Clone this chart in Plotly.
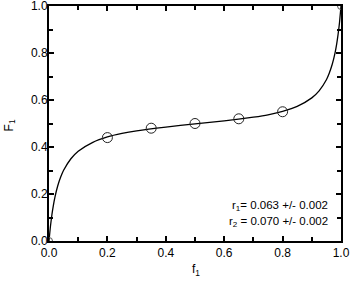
import plotly.graph_objects as go

# Fitted composition curve
curve_f1 = [0.0, 0.005, 0.01, 0.015, 0.02, 0.03, 0.04, 0.05, 0.075, 0.1, 0.15, 0.2, 0.25,
            0.3, 0.4, 0.5, 0.6, 0.7, 0.75, 0.8, 0.85, 0.9, 0.925, 0.95, 0.96, 0.97,
            0.98, 0.985, 0.99, 0.995, 1.0]
curve_F1 = [0.0, 0.063, 0.112, 0.152, 0.185, 0.235, 0.272, 0.301, 0.350, 0.382, 0.420, 0.443, 0.458,
            0.469, 0.485, 0.498, 0.511, 0.527, 0.537, 0.552, 0.573, 0.609, 0.639, 0.686, 0.715, 0.752,
            0.803, 0.837, 0.879, 0.931, 1.0]

# Experimental points
exp_f1 = [0.2, 0.35, 0.5, 0.65, 0.8]
exp_F1 = [0.44, 0.48, 0.50, 0.52, 0.55]

# Homopolymer end points
end_f1 = [0.0, 1.0]
end_F1 = [0.0, 1.0]

x_ticks = [0.0, 0.2, 0.4, 0.6, 0.8, 1.0]
y_ticks = [0.0, 0.2, 0.4, 0.6, 0.8, 1.0]
tick_text = ["0.0", "0.2", "0.4", "0.6", "0.8", "1.0"]

FONT = "Liberation Sans, Arial, sans-serif"

fig = go.Figure()
fig.add_trace(go.Scatter(x=curve_f1, y=curve_F1, mode="lines",
                         line=dict(color="black", width=1.3, shape="spline", smoothing=0.6),
                         showlegend=False))
fig.add_trace(go.Scatter(x=exp_f1, y=exp_F1, mode="markers",
                         marker=dict(symbol="circle-open", size=10, color="#222",
                                     line=dict(width=1, color="#222")),
                         showlegend=False))
fig.add_trace(go.Scatter(x=end_f1, y=end_F1, mode="markers",
                         marker=dict(symbol="circle-open", size=7, color="#555",
                                     line=dict(width=1, color="#555")),
                         showlegend=False))

axis_common = dict(
    showgrid=False, zeroline=False, showline=True, linecolor="black", linewidth=2,
    mirror="allticks", ticks="inside", ticklen=5, tickwidth=1.5, tickcolor="black",
    tickfont=dict(family=FONT, size=12, color="black"),
    minor=dict(ticks="inside", dtick=0.1, ticklen=4, tickwidth=1.5, tickcolor="black"),
    automargin=False, ticklabeloverflow="allow",
)

fig.update_xaxes(range=[0, 1], tickvals=x_ticks, ticktext=tick_text, **axis_common)
fig.update_yaxes(range=[0, 1], tickvals=y_ticks, ticktext=tick_text, ticklabelstandoff=-3, **axis_common)

fig.add_annotation(x=0.503, y=-0.123, xref="paper", yref="paper", text="f<sub>1</sub>",
                   xanchor="center", yanchor="middle", showarrow=False,
                   font=dict(family=FONT, size=12, color="black"))
fig.add_annotation(x=-0.135, y=0.49, xref="paper", yref="paper", text="F<sub>1</sub>", textangle=-90,
                   xanchor="center", yanchor="middle", showarrow=False,
                   font=dict(family=FONT, size=12, color="black"))
fig.add_annotation(x=0.962, y=0.112, xref="paper", yref="paper", xanchor="right",
                   text="r<sub>1</sub>= 0.063 +/- 0.002", showarrow=False,
                   font=dict(family=FONT, size=11.5, color="black"))
fig.add_annotation(x=0.962, y=0.042, xref="paper", yref="paper", xanchor="right",
                   text="r<sub>2</sub> = 0.070 +/- 0.002", showarrow=False,
                   font=dict(family=FONT, size=11.5, color="black"))

fig.update_layout(
    width=350, height=281,
    margin=dict(l=49, r=9, t=6, b=40),
    paper_bgcolor="white", plot_bgcolor="white",
)

fig.write_html("out.html", config={"displayModeBar": False},
               post_script="document.body.style.margin='0';document.body.style.overflow='hidden';")
